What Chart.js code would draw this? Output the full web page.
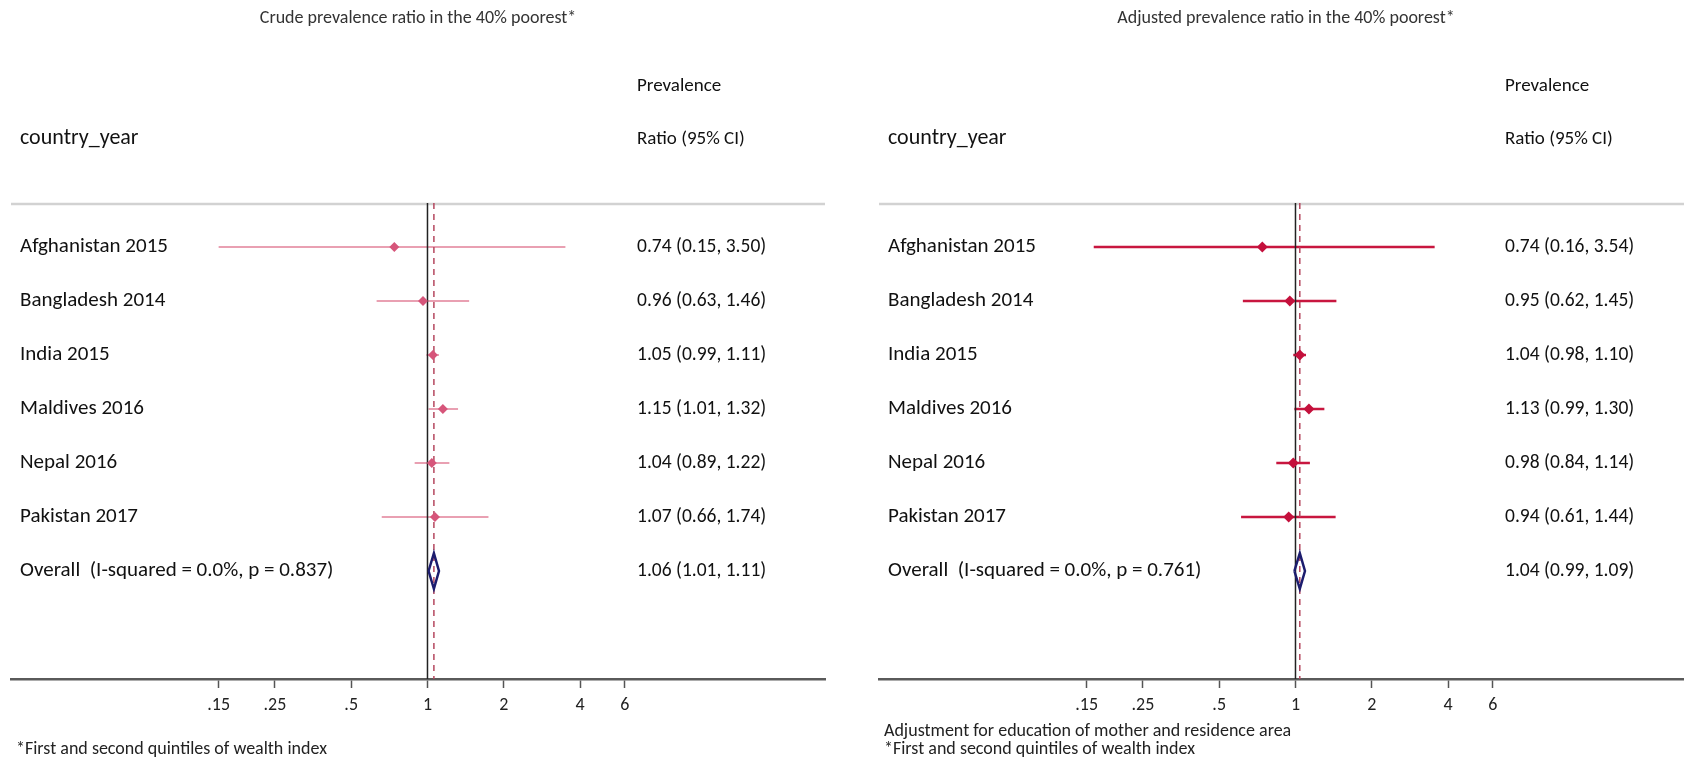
<!DOCTYPE html>
<html>
<head>
<meta charset="utf-8">
<script src="https://cdn.jsdelivr.net/npm/chart.js@4.4.1/dist/chart.umd.min.js"></script>
<style>
  html, body { margin: 0; padding: 0; background: #fff; overflow: hidden; }
  body { width: 1684px; height: 762px; position: relative; }
  .panel { position: absolute; top: 0; width: 868px; height: 762px; }
  #crude-panel { left: 0; }
  #adjusted-panel { left: 868px; }
</style>
</head>
<body>
<div class="panel" id="crude-panel"><canvas id="crude-chart" width="868" height="762"></canvas></div>
<div class="panel" id="adjusted-panel"><canvas id="adjusted-chart" width="868" height="762"></canvas></div>
<script>
// rows of the forest plot
const countries = ['Afghanistan 2015', 'Bangladesh 2014', 'India 2015', 'Maldives 2016', 'Nepal 2016', 'Pakistan 2017'];

// crude prevalence ratios
const crudeEst = [0.74, 0.96, 1.05, 1.15, 1.04, 1.07];
const crudeLo  = [0.15, 0.63, 0.99, 1.01, 0.89, 0.66];
const crudeHi  = [3.50, 1.46, 1.11, 1.32, 1.22, 1.74];
const crudeOverall = [1.06, 1.01, 1.11]; // est, lo, hi
const crudeOverallLabel = 'Overall  (I-squared = 0.0%, p = 0.837)';

// adjusted prevalence ratios
const adjEst = [0.74, 0.95, 1.04, 1.13, 0.98, 0.94];
const adjLo  = [0.16, 0.62, 0.98, 0.99, 0.84, 0.61];
const adjHi  = [3.54, 1.45, 1.10, 1.30, 1.14, 1.44];
const adjOverall = [1.04, 0.99, 1.09];
const adjOverallLabel = 'Overall  (I-squared = 0.0%, p = 0.761)';

const xTicks = [0.15, 0.25, 0.5, 1, 2, 4, 6];

const FONT = 'Carlito, Lato, "Open Sans", sans-serif';
const X_MIN = 0.02275;
const X_MAX = 37;
const Y_TOP = -0.815;
const Y_BOTTOM = 8;
const DIAMOND_HALF = 0.33;

function fmt(v) {
  return v.toFixed(2);
}

// text columns, header and separator drawn around the plot
const forestText = {
  id: 'forestText',
  beforeDatasetsDraw(chart) {
    const ctx = chart.ctx;
    const area = chart.chartArea;
    ctx.save();
    ctx.strokeStyle = '#d2d2d2';
    ctx.lineWidth = 2.5;
    ctx.beginPath();
    ctx.moveTo(area.left, area.top + 1);
    ctx.lineTo(area.right, area.top + 1);
    ctx.stroke();
    ctx.restore();
  },
  afterDraw(chart, args, opts) {
    const ctx = chart.ctx;
    const y = chart.scales.y;
    ctx.save();
    ctx.fillStyle = '#111';
    ctx.textBaseline = 'middle';
    ctx.textAlign = 'left';

    ctx.font = `22px ${FONT}`;
    ctx.fillText('country_year', opts.labelX, 138);
    ctx.font = `19px ${FONT}`;
    ctx.fillText('Prevalence', opts.valueX, 86);
    ctx.fillText('Ratio (95% CI)', opts.valueX, 139);

    opts.labels.forEach((label, i) => {
      const py = y.getPixelForValue(i);
      ctx.font = `21px ${FONT}`;
      ctx.fillText(label, opts.labelX, py);
      ctx.font = `19.5px ${FONT}`;
      ctx.fillText(`${fmt(opts.est[i])} (${fmt(opts.lo[i])}, ${fmt(opts.hi[i])})`, opts.valueX, py);
    });

    ctx.font = `18px ${FONT}`;
    ctx.fillStyle = '#222';
    const n = opts.notes.length;
    opts.notes.forEach((note, k) => {
      ctx.fillText(note, opts.noteX, 749 - (n - 1 - k) * 18);
    });
    ctx.restore();
  }
};

function buildDatasets(est, lo, hi, overall, style) {
  const overallRow = est.length;
  const datasets = [];

  // point estimates
  datasets.push({
    data: est.map((e, i) => ({ x: e, y: i })),
    pointStyle: 'rectRot',
    pointRadius: style.markerRadius,
    backgroundColor: style.marker,
    borderColor: style.marker,
    borderWidth: 0
  });

  // pooled estimate diamond
  datasets.push({
    data: [
      { x: overall[1], y: overallRow },
      { x: overall[0], y: overallRow - DIAMOND_HALF },
      { x: overall[2], y: overallRow },
      { x: overall[0], y: overallRow + DIAMOND_HALF },
      { x: overall[1], y: overallRow }
    ],
    showLine: true,
    borderColor: '#1c1c6e',
    borderWidth: 2.5,
    borderJoinStyle: 'miter',
    pointRadius: 0,
    fill: false
  });

  // line of no effect
  datasets.push({
    data: [{ x: 1, y: Y_TOP }, { x: 1, y: Y_BOTTOM }],
    showLine: true,
    borderColor: '#222',
    borderWidth: 1.5,
    pointRadius: 0
  });

  // pooled estimate reference line
  datasets.push({
    data: [{ x: overall[0], y: Y_TOP }, { x: overall[0], y: Y_BOTTOM }],
    showLine: true,
    borderColor: '#b5485f',
    borderWidth: 1.5,
    borderDash: [6, 5],
    pointRadius: 0
  });

  // confidence intervals
  est.forEach((e, i) => {
    datasets.push({
      data: [{ x: lo[i], y: i }, { x: hi[i], y: i }],
      showLine: true,
      borderColor: style.ci,
      borderWidth: style.ciWidth,
      pointRadius: 0
    });
  });

  return datasets;
}

function makeForest(canvasId, cfg) {
  const ctx = document.getElementById(canvasId);
  return new Chart(ctx, {
    type: 'scatter',
    data: {
      datasets: buildDatasets(cfg.est, cfg.lo, cfg.hi, cfg.overall, cfg.style)
    },
    options: {
      responsive: false,
      animation: false,
      events: [],
      layout: { padding: { left: 11, right: 43, top: 0, bottom: 0 } },
      plugins: {
        legend: { display: false },
        tooltip: { enabled: false },
        title: {
          display: true,
          text: cfg.title,
          fullSize: false,
          color: '#333',
          font: { family: FONT, size: 18, weight: 'normal', lineHeight: 1.2 },
          padding: { top: 7.2, bottom: 174.2 }
        },
        forestText: {
          labels: countries.concat([cfg.overallLabel]),
          est: cfg.est.concat([cfg.overall[0]]),
          lo: cfg.lo.concat([cfg.overall[1]]),
          hi: cfg.hi.concat([cfg.overall[2]]),
          notes: cfg.notes,
          labelX: 20,
          valueX: 637,
          noteX: 16
        }
      },
      scales: {
        x: {
          type: 'logarithmic',
          min: X_MIN,
          max: X_MAX,
          afterFit: (scale) => { scale.height = 83; },
          afterBuildTicks: (scale) => {
            scale.ticks = xTicks.map(v => ({ value: v }));
          },
          grid: {
            display: true,
            drawOnChartArea: false,
            drawTicks: true,
            tickLength: 9,
            tickWidth: 1.5,
            tickColor: '#555'
          },
          border: { display: true, color: '#5a5a5a', width: 2.5 },
          ticks: {
            autoSkip: false,
            maxRotation: 0,
            padding: 7,
            color: '#222',
            font: { family: FONT, size: 18 },
            callback: (value) => String(value).replace(/^0\./, '.')
          }
        },
        y: {
          type: 'linear',
          display: false,
          reverse: true,
          min: Y_TOP,
          max: Y_BOTTOM
        }
      }
    },
    plugins: [forestText]
  });
}

makeForest('crude-chart', {
  title: 'Crude prevalence ratio in the 40% poorest*',
  est: crudeEst, lo: crudeLo, hi: crudeHi,
  overall: crudeOverall,
  overallLabel: crudeOverallLabel,
  notes: ['*First and second quintiles of wealth index'],
  style: { marker: '#d6557a', markerRadius: 5, ci: '#e9a0b2', ciWidth: 2 }
});

makeForest('adjusted-chart', {
  title: 'Adjusted prevalence ratio in the 40% poorest*',
  est: adjEst, lo: adjLo, hi: adjHi,
  overall: adjOverall,
  overallLabel: adjOverallLabel,
  notes: ['Adjustment for education of mother and residence area', '*First and second quintiles of wealth index'],
  style: { marker: '#c4103c', markerRadius: 5.5, ci: '#c8163f', ciWidth: 2.5 }
});
</script>
</body>
</html>
